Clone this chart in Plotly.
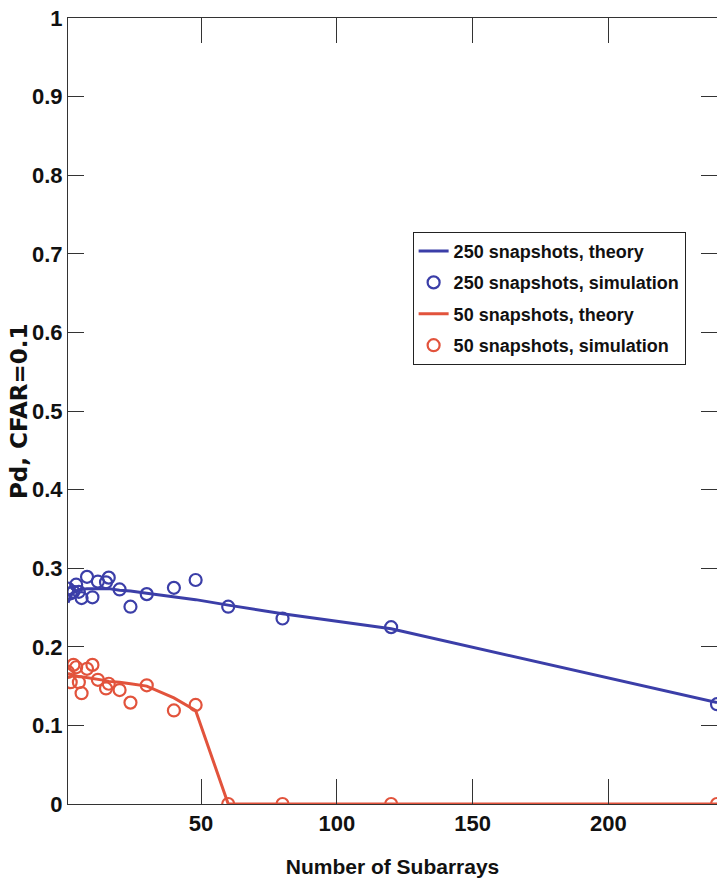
import plotly.graph_objects as go

# Number of subarrays (divisors of 240)
subarrays = [1, 2, 3, 4, 5, 6, 8, 10, 12, 15, 16, 20, 24, 30, 40, 48, 60, 80, 120, 240]

pd250_theory = [0.256, 0.265, 0.269, 0.271, 0.272, 0.273, 0.274, 0.274, 0.274, 0.274,
                0.274, 0.272, 0.271, 0.268, 0.264, 0.260, 0.253, 0.242, 0.223, 0.129]
pd250_sim = [0.274, 0.268, 0.270, 0.279, 0.270, 0.262, 0.289, 0.263, 0.283, 0.282,
             0.288, 0.273, 0.251, 0.267, 0.275, 0.285, 0.251, 0.236, 0.225, 0.127]

pd50_theory = [0.166, 0.165, 0.164, 0.163, 0.162, 0.162, 0.161, 0.160, 0.159, 0.157,
               0.156, 0.155, 0.153, 0.150, 0.135, 0.119, 0.0, 0.0, 0.0, 0.0]
pd50_sim = [0.168, 0.155, 0.177, 0.174, 0.155, 0.141, 0.172, 0.177, 0.158, 0.147,
            0.153, 0.145, 0.129, 0.151, 0.119, 0.126, 0.0, 0.0, 0.0, 0.0]

y_ticks = [0, 0.1, 0.2, 0.3, 0.4, 0.5, 0.6, 0.7, 0.8, 0.9, 1]
y_tick_labels = ["0", "0.1", "0.2", "0.3", "0.4", "0.5", "0.6", "0.7", "0.8", "0.9", "1"]
x_ticks = [50, 100, 150, 200]

BLUE = "#3b3ea8"
RED = "#e2533c"
FONT = "Liberation Sans, Arial, sans-serif"

fig = go.Figure()
fig.add_trace(go.Scatter(x=subarrays, y=pd250_theory, mode="lines",
                         line=dict(color=BLUE, width=3), legendgroup="a",
                         name="<b>250 snapshots, theory</b>"))
fig.add_trace(go.Scatter(x=subarrays, y=pd250_sim, mode="markers", legendgroup="b",
                         marker=dict(symbol="circle-open", size=12, color=BLUE,
                                     line=dict(width=2.2, color=BLUE)),
                         name="<b>250 snapshots, simulation</b>"))
fig.add_trace(go.Scatter(x=subarrays, y=pd50_theory, mode="lines", legendgroup="c",
                         line=dict(color=RED, width=3),
                         name="<b>50 snapshots, theory</b>"))
fig.add_trace(go.Scatter(x=subarrays, y=pd50_sim, mode="markers", legendgroup="d",
                         marker=dict(symbol="circle-open", size=12, color=RED,
                                     line=dict(width=2.2, color=RED)),
                         name="<b>50 snapshots, simulation</b>"))

fig.update_layout(
    width=717, height=892,
    margin=dict(l=68, r=0, t=18, b=88, autoexpand=False),
    paper_bgcolor="white", plot_bgcolor="white",
    showlegend=True,
    legend=dict(x=0.531, y=0.728, xanchor="left", yanchor="top",
                bgcolor="white", bordercolor="#222", borderwidth=1,
                font=dict(family=FONT, size=18, color="#111"),
                tracegroupgap=5),
    font=dict(family=FONT, color="#111"),
    annotations=[dict(text="<b>Pd, CFAR=0.1</b>", textangle=-90,
                      xref="paper", yref="paper", x=-0.0755, y=0.5,
                      xanchor="center", yanchor="middle", showarrow=False,
                      font=dict(family="DejaVu Sans, sans-serif", size=23, color="#111"))],
)

fig.update_xaxes(
    range=[1, 240], tickvals=x_ticks, ticktext=["<b>%d</b>" % v for v in x_ticks],
    ticks="inside", ticklen=25, tickwidth=1,
    tickcolor="#333", showline=True, linecolor="#333", linewidth=1, mirror="ticks",
    showgrid=False, zeroline=False,
    tickfont=dict(family=FONT, size=22, color="#111"),
    title=dict(text="<b>Number of Subarrays</b>", standoff=23,
               font=dict(family=FONT, size=21, color="#111")),
)
fig.update_yaxes(
    range=[0, 1], tickvals=y_ticks, ticktext=["<b>" + t + "</b>" for t in y_tick_labels],
    ticks="inside", ticklen=16, tickwidth=1,
    tickcolor="#333", showline=True, linecolor="#333", linewidth=1, mirror="ticks",
    showgrid=False, zeroline=False,
    tickfont=dict(family=FONT, size=22, color="#111"),
)

fig.write_html("out.html")
